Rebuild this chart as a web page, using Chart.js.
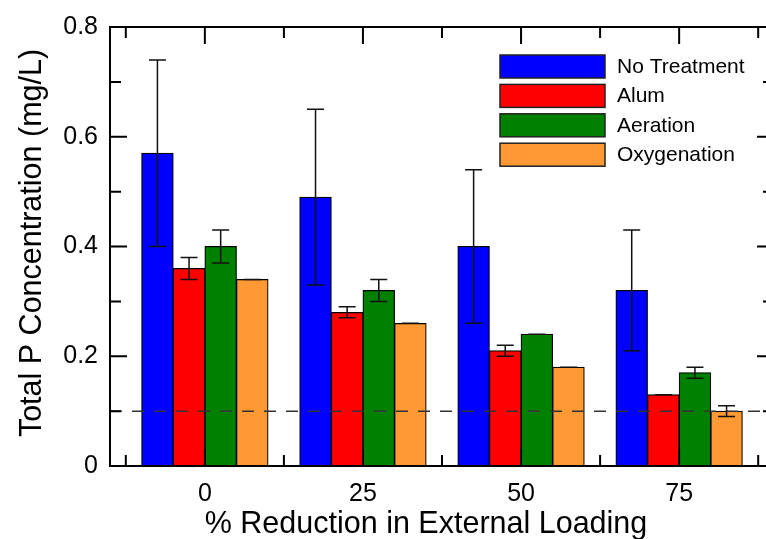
<!DOCTYPE html>
<html>
<head>
<meta charset="utf-8">
<title>Total P Concentration</title>
<script src="https://cdn.jsdelivr.net/npm/chart.js@4.4.0/dist/chart.umd.min.js"></script>
<style>
    html, body { margin: 0; padding: 0; background: #fff; overflow: hidden; }
    #wrap { width: 766px; height: 539px; overflow: hidden; }
    canvas { display: block; }
</style>
</head>
<body>
<div id="wrap"><canvas id="pChart" width="780" height="539"></canvas></div>
<script>
// Data
var categories = [0, 25, 50, 75];
var xTickLabels = ['0', '25', '50', '75'];
var yTickValues = [0, 0.2, 0.4, 0.6, 0.8];
var yTickLabels = ['0', '0.2', '0.4', '0.6', '0.8'];

var seriesNames = ['No Treatment', 'Alum', 'Aeration', 'Oxygenation'];
var seriesColors = ['#0000FF', '#FF0000', '#008000', '#FF9933'];

var noTreatment = [0.57, 0.49, 0.40, 0.32];
var alum = [0.36, 0.28, 0.21, 0.13];
var aeration = [0.40, 0.32, 0.24, 0.17];
var oxygenation = [0.34, 0.26, 0.18, 0.10];

var noTreatmentErr = [0.17, 0.16, 0.14, 0.11];
var alumErr = [0.02, 0.01, 0.01, 0];
var aerationErr = [0.03, 0.02, 0, 0.01];
var oxygenationErr = [0, 0, 0, 0.01];

var targetLine = 0.1;

var FONT = "'Liberation Sans', Arial, Helvetica, sans-serif";

var seriesValues = [noTreatment, alum, aeration, oxygenation];
var seriesErrors = [noTreatmentErr, alumErr, aerationErr, oxygenationErr];

function toPoints(values) {
    return values.map(function (v, i) { return { x: categories[i], y: v }; });
}

// error bars, reference line, frame with inward ticks, legend and axis titles
var decorPlugin = {
    id: 'decor',
    afterDatasetsDraw: function (chart) {
        var ctx = chart.ctx;
        var area = chart.chartArea;
        var xs = chart.scales.x;
        var ys = chart.scales.y;
        var i, d;

        ctx.save();

        // dashed line
        var yRef = ys.getPixelForValue(targetLine);
        ctx.strokeStyle = '#333';
        ctx.lineWidth = 1.5;
        ctx.setLineDash([12, 10]);
        ctx.beginPath();
        ctx.moveTo(area.left, yRef);
        ctx.lineTo(area.right, yRef);
        ctx.stroke();
        ctx.setLineDash([]);

        // error bars
        ctx.strokeStyle = '#111';
        ctx.lineWidth = 1.5;
        for (d = 0; d < chart.data.datasets.length; d++) {
            var meta = chart.getDatasetMeta(d);
            for (i = 0; i < meta.data.length; i++) {
                var bx = meta.data[i].x;
                var v = seriesValues[d][i];
                var e = seriesErrors[d][i];
                var yTop = ys.getPixelForValue(v + e);
                var yBot = ys.getPixelForValue(v - e);
                ctx.beginPath();
                ctx.moveTo(bx, yTop);
                ctx.lineTo(bx, yBot);
                ctx.moveTo(bx - 8.5, yTop);
                ctx.lineTo(bx + 8.5, yTop);
                ctx.moveTo(bx - 8.5, yBot);
                ctx.lineTo(bx + 8.5, yBot);
                ctx.stroke();
            }
        }

        // frame
        ctx.strokeStyle = '#000';
        ctx.lineWidth = 2;
        ctx.strokeRect(area.left, area.top, area.right - area.left, area.bottom - area.top);

        // inward ticks
        ctx.beginPath();
        for (i = 0; i < yTickValues.length; i++) {
            var py = ys.getPixelForValue(yTickValues[i]);
            ctx.moveTo(area.left, py); ctx.lineTo(area.left + 17, py);
            ctx.moveTo(area.right, py); ctx.lineTo(area.right - 17, py);
            if (i < yTickValues.length - 1) {
                var pm = ys.getPixelForValue((yTickValues[i] + yTickValues[i + 1]) / 2);
                ctx.moveTo(area.left, pm); ctx.lineTo(area.left + 11, pm);
                ctx.moveTo(area.right, pm); ctx.lineTo(area.right - 11, pm);
            }
        }
        var step = categories[1] - categories[0];
        for (i = 0; i < categories.length; i++) {
            var px = xs.getPixelForValue(categories[i]);
            ctx.moveTo(px, area.bottom); ctx.lineTo(px, area.bottom - 17);
            ctx.moveTo(px, area.top); ctx.lineTo(px, area.top + 17);
            var mids = [categories[i] - step / 2];
            if (i === categories.length - 1) mids.push(categories[i] + step / 2);
            mids.forEach(function (m) {
                var qx = xs.getPixelForValue(m);
                ctx.moveTo(qx, area.bottom); ctx.lineTo(qx, area.bottom - 11);
                ctx.moveTo(qx, area.top); ctx.lineTo(qx, area.top + 11);
            });
        }
        ctx.stroke();

        // legend
        var lx = area.left + 390;
        var ly = area.top + 28;
        ctx.font = '21px ' + FONT;
        ctx.textBaseline = 'middle';
        ctx.textAlign = 'left';
        ctx.lineWidth = 1.5;
        chart.data.datasets.forEach(function (ds, k) {
            var top = ly + k * 29.4;
            ctx.fillStyle = ds.backgroundColor;
            ctx.fillRect(lx, top, 105, 23);
            ctx.strokeStyle = '#222';
            ctx.strokeRect(lx, top, 105, 23);
            ctx.fillStyle = '#000';
            ctx.fillText(ds.label, lx + 117, top + 12);
        });

        // axis titles
        ctx.font = '30.5px ' + FONT;
        ctx.fillStyle = '#000';
        ctx.textBaseline = 'alphabetic';
        ctx.textAlign = 'center';
        ctx.fillText('% Reduction in External Loading', 426, 533);

        ctx.save();
        ctx.translate(41, 243);
        ctx.rotate(-Math.PI / 2);
        ctx.fillText('Total P Concentration (mg/L)', 0, 0);
        ctx.restore();

        ctx.restore();
    }
};

var datasets = seriesNames.map(function (name, k) {
    return {
        label: name,
        data: toPoints(seriesValues[k]),
        backgroundColor: seriesColors[k],
        borderColor: '#000',
        borderWidth: 1.2,
        borderSkipped: 'bottom',
        inflateAmount: 0.4,
        categoryPercentage: 0.8,
        barPercentage: 1.0
    };
});

var canvas = document.getElementById('pChart');
var chart = new Chart(canvas.getContext('2d'), {
    type: 'bar',
    data: { datasets: datasets },
    options: {
        responsive: false,
        animation: false,
        devicePixelRatio: 1,
        layout: { padding: { top: 25, right: 6, left: 0, bottom: 0 } },
        plugins: {
            legend: { display: false },
            tooltip: { enabled: false }
        },
        scales: {
            x: {
                type: 'linear',
                min: -15,
                max: 90,
                offset: false,
                grid: { display: false, drawTicks: false },
                border: { display: false },
                afterBuildTicks: function (scale) {
                    scale.ticks = categories.map(function (c) { return { value: c }; });
                },
                afterFit: function (scale) { scale.height = 73; },
                ticks: {
                    padding: 13,
                    color: '#000',
                    font: { family: FONT, size: 25 },
                    callback: function (value) {
                        var idx = categories.indexOf(value);
                        return idx >= 0 ? xTickLabels[idx] : '';
                    }
                }
            },
            y: {
                min: 0,
                max: 0.8,
                grid: { display: false, drawTicks: false },
                border: { display: false },
                afterBuildTicks: function (scale) {
                    scale.ticks = yTickValues.map(function (v) { return { value: v }; });
                },
                afterFit: function (scale) { scale.width = 110; },
                ticks: {
                    padding: 12,
                    color: '#000',
                    font: { family: FONT, size: 25 },
                    callback: function (value, index) {
                        return yTickLabels[index];
                    }
                }
            }
        }
    },
    plugins: [decorPlugin]
});
</script>
</body>
</html>
